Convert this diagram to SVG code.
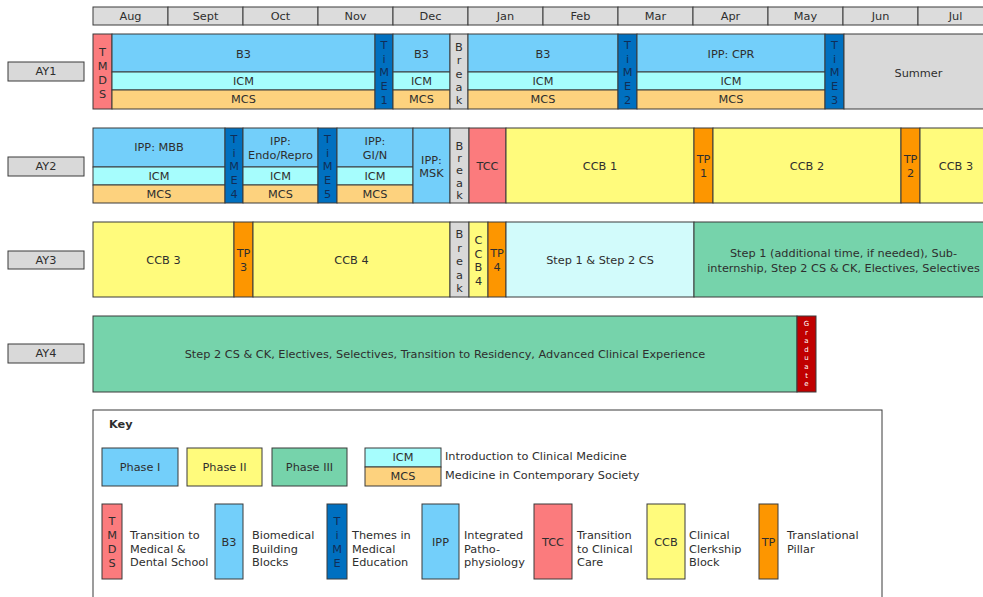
<svg xmlns="http://www.w3.org/2000/svg" width="983" height="597" viewBox="0 0 983 597">
<style>
text{font-family:"DejaVu Sans","Liberation Sans",sans-serif;font-size:11.3px;fill:#2e2e2e;text-anchor:middle;dominant-baseline:central}
rect{stroke:#3a3a3a;stroke-width:1}
.m{fill:#dcdcdc}
.lab{fill:#d9d9d9}
.p1{fill:#73cffa}
.icm{fill:#a6fdfd}
.mcs{fill:#fdd27e}
.time{fill:#0070c0}
.red{fill:#fb7b7d}
.brk{fill:#d9d9d9}
.ccb{fill:#fffb7c}
.tp{fill:#fd9600}
.cs{fill:#d2fbfb}
.p3{fill:#76d3ab}
.grad{fill:#c00000}
.tt{fill:#102e58}
.gt{fill:#ffffff;font-size:7px}
.l{text-anchor:start}
.k{font-weight:bold;text-anchor:start}
</style>

<g id="months">
<rect class="m" x="93" y="7" width="75" height="18"/><text x="130.5" y="16">Aug</text>
<rect class="m" x="168" y="7" width="75" height="18"/><text x="205.5" y="16">Sept</text>
<rect class="m" x="243" y="7" width="75" height="18"/><text x="280.5" y="16">Oct</text>
<rect class="m" x="318" y="7" width="75" height="18"/><text x="355.5" y="16">Nov</text>
<rect class="m" x="393" y="7" width="75" height="18"/><text x="430.5" y="16">Dec</text>
<rect class="m" x="468" y="7" width="75" height="18"/><text x="505.5" y="16">Jan</text>
<rect class="m" x="543" y="7" width="75" height="18"/><text x="580.5" y="16">Feb</text>
<rect class="m" x="618" y="7" width="75" height="18"/><text x="655.5" y="16">Mar</text>
<rect class="m" x="693" y="7" width="75" height="18"/><text x="730.5" y="16">Apr</text>
<rect class="m" x="768" y="7" width="75" height="18"/><text x="805.5" y="16">May</text>
<rect class="m" x="843" y="7" width="75" height="18"/><text x="880.5" y="16">Jun</text>
<rect class="m" x="918" y="7" width="75" height="18"/><text x="955.5" y="16">Jul</text>
</g>

<g id="labels">
<g id="ay1"><rect class="lab" x="8" y="62" width="76" height="19"/><text x="46" y="71.5">AY1</text></g>
<g id="ay2"><rect class="lab" x="8" y="157" width="76" height="19"/><text x="46" y="166.5">AY2</text></g>
<g id="ay3"><rect class="lab" x="8" y="251" width="76" height="18"/><text x="46" y="260">AY3</text></g>
<g id="ay4"><rect class="lab" x="8" y="344" width="76" height="19"/><text x="46" y="353.5">AY4</text></g>
</g>

<g id="row-ay1">
<g id="tmds1"><rect class="red" x="93" y="34" width="19" height="75"/>
<text x="102.5" y="52"><tspan x="102.5">T</tspan><tspan x="102.5" dy="14">M</tspan><tspan x="102.5" dy="14">D</tspan><tspan x="102.5" dy="14">S</tspan></text></g>
<g id="b3-1"><rect class="p1" x="112" y="34" width="263" height="38"/><text x="243.5" y="54">B3</text>
<rect class="icm" x="112" y="72" width="263" height="18"/><text x="243.5" y="81">ICM</text>
<rect class="mcs" x="112" y="90" width="263" height="19"/><text x="243.5" y="99.5">MCS</text></g>
<g id="time1"><rect class="time" x="375" y="34" width="18" height="75"/>
<text class="tt" x="384" y="45"><tspan x="384">T</tspan><tspan x="384" dy="13.7">i</tspan><tspan x="384" dy="13.7">M</tspan><tspan x="384" dy="13.7">E</tspan><tspan x="384" dy="13.7">1</tspan></text></g>
<g id="b3-2"><rect class="p1" x="393" y="34" width="57" height="38"/><text x="421.5" y="54">B3</text>
<rect class="icm" x="393" y="72" width="57" height="18"/><text x="421.5" y="81">ICM</text>
<rect class="mcs" x="393" y="90" width="57" height="19"/><text x="421.5" y="99.5">MCS</text></g>
<g id="break1"><rect class="brk" x="450" y="34" width="18" height="75"/>
<text x="459" y="47"><tspan x="459">B</tspan><tspan x="459" dy="13.3">r</tspan><tspan x="459" dy="13.3">e</tspan><tspan x="459" dy="13.3">a</tspan><tspan x="459" dy="13.3">k</tspan></text></g>
<g id="b3-3"><rect class="p1" x="468" y="34" width="150" height="38"/><text x="543" y="54">B3</text>
<rect class="icm" x="468" y="72" width="150" height="18"/><text x="543" y="81">ICM</text>
<rect class="mcs" x="468" y="90" width="150" height="19"/><text x="543" y="99.5">MCS</text></g>
<g id="time2"><rect class="time" x="618" y="34" width="19" height="75"/>
<text class="tt" x="627.5" y="45"><tspan x="627.5">T</tspan><tspan x="627.5" dy="13.7">i</tspan><tspan x="627.5" dy="13.7">M</tspan><tspan x="627.5" dy="13.7">E</tspan><tspan x="627.5" dy="13.7">2</tspan></text></g>
<g id="cpr"><rect class="p1" x="637" y="34" width="188" height="38"/><text x="731" y="54">IPP: CPR</text>
<rect class="icm" x="637" y="72" width="188" height="18"/><text x="731" y="81">ICM</text>
<rect class="mcs" x="637" y="90" width="188" height="19"/><text x="731" y="99.5">MCS</text></g>
<g id="time3"><rect class="time" x="825" y="34" width="19" height="75"/>
<text class="tt" x="834.5" y="45"><tspan x="834.5">T</tspan><tspan x="834.5" dy="13.7">i</tspan><tspan x="834.5" dy="13.7">M</tspan><tspan x="834.5" dy="13.7">E</tspan><tspan x="834.5" dy="13.7">3</tspan></text></g>
<g id="summer"><rect class="brk" x="844" y="34" width="149" height="75"/><text x="918.5" y="73">Summer</text></g>
</g>

<g id="row-ay2">
<g id="mbb"><rect class="p1" x="93" y="128" width="132" height="39"/><text x="159" y="147">IPP: MBB</text>
<rect class="icm" x="93" y="167" width="132" height="18"/><text x="159" y="176">ICM</text>
<rect class="mcs" x="93" y="185" width="132" height="18"/><text x="159" y="194">MCS</text></g>
<g id="time4"><rect class="time" x="225" y="128" width="18" height="75"/>
<text class="tt" x="234" y="139"><tspan x="234">T</tspan><tspan x="234" dy="13.7">i</tspan><tspan x="234" dy="13.7">M</tspan><tspan x="234" dy="13.7">E</tspan><tspan x="234" dy="13.7">4</tspan></text></g>
<g id="endo"><rect class="p1" x="243" y="128" width="75" height="39"/><text x="280.5" y="141"><tspan x="280.5">IPP:</tspan><tspan x="280.5" dy="14">Endo/Repro</tspan></text>
<rect class="icm" x="243" y="167" width="75" height="18"/><text x="280.5" y="176">ICM</text>
<rect class="mcs" x="243" y="185" width="75" height="18"/><text x="280.5" y="194">MCS</text></g>
<g id="time5"><rect class="time" x="318" y="128" width="19" height="75"/>
<text class="tt" x="327.5" y="139"><tspan x="327.5">T</tspan><tspan x="327.5" dy="13.7">i</tspan><tspan x="327.5" dy="13.7">M</tspan><tspan x="327.5" dy="13.7">E</tspan><tspan x="327.5" dy="13.7">5</tspan></text></g>
<g id="gin"><rect class="p1" x="337" y="128" width="76" height="39"/><text x="375" y="141"><tspan x="375">IPP:</tspan><tspan x="375" dy="14">GI/N</tspan></text>
<rect class="icm" x="337" y="167" width="76" height="18"/><text x="375" y="176">ICM</text>
<rect class="mcs" x="337" y="185" width="76" height="18"/><text x="375" y="194">MCS</text></g>
<g id="msk"><rect class="p1" x="413" y="128" width="37" height="75"/><text x="431.5" y="160"><tspan x="431.5">IPP:</tspan><tspan x="431.5" dy="13">MSK</tspan></text></g>
<g id="break2"><rect class="brk" x="450" y="128" width="19" height="75"/>
<text x="459.5" y="146"><tspan x="459.5">B</tspan><tspan x="459.5" dy="12.2">r</tspan><tspan x="459.5" dy="12.2">e</tspan><tspan x="459.5" dy="12.2">a</tspan><tspan x="459.5" dy="12.2">k</tspan></text></g>
<g id="tcc"><rect class="red" x="469" y="128" width="37" height="75"/><text x="487.5" y="166">TCC</text></g>
<g id="ccb1"><rect class="ccb" x="506" y="128" width="188" height="75"/><text x="600" y="166">CCB 1</text></g>
<g id="tp1"><rect class="tp" x="694" y="128" width="19" height="75"/><text x="703.5" y="159"><tspan x="703.5">TP</tspan><tspan x="703.5" dy="14">1</tspan></text></g>
<g id="ccb2"><rect class="ccb" x="713" y="128" width="188" height="75"/><text x="807" y="166">CCB 2</text></g>
<g id="tp2"><rect class="tp" x="901" y="128" width="19" height="75"/><text x="910.5" y="159"><tspan x="910.5">TP</tspan><tspan x="910.5" dy="14">2</tspan></text></g>
<g id="ccb3a"><rect class="ccb" x="920" y="128" width="73" height="75"/><text x="956" y="166">CCB 3</text></g>
</g>

<g id="row-ay3">
<g id="ccb3b"><rect class="ccb" x="93" y="222" width="141" height="75"/><text x="163.5" y="260">CCB 3</text></g>
<g id="tp3"><rect class="tp" x="234" y="222" width="19" height="75"/><text x="243.5" y="253"><tspan x="243.5">TP</tspan><tspan x="243.5" dy="14">3</tspan></text></g>
<g id="ccb4"><rect class="ccb" x="253" y="222" width="197" height="75"/><text x="351.5" y="260">CCB 4</text></g>
<g id="break3"><rect class="brk" x="450" y="222" width="19" height="75"/>
<text x="459.5" y="234"><tspan x="459.5">B</tspan><tspan x="459.5" dy="13.6">r</tspan><tspan x="459.5" dy="13.6">e</tspan><tspan x="459.5" dy="13.6">a</tspan><tspan x="459.5" dy="13.6">k</tspan></text></g>
<g id="ccb4v"><rect class="ccb" x="469" y="222" width="19" height="75"/>
<text x="478.5" y="240"><tspan x="478.5">C</tspan><tspan x="478.5" dy="13.6">C</tspan><tspan x="478.5" dy="13.6">B</tspan><tspan x="478.5" dy="13.6">4</tspan></text></g>
<g id="tp4"><rect class="tp" x="488" y="222" width="18" height="75"/><text x="497" y="253"><tspan x="497">TP</tspan><tspan x="497" dy="14">4</tspan></text></g>
<g id="step12"><rect class="cs" x="506" y="222" width="188" height="75"/><text x="600" y="260">Step 1 &amp; Step 2 CS</text></g>
<g id="step1add"><rect class="p3" x="694" y="222" width="299" height="75"/><text x="843.5" y="253"><tspan x="843.5">Step 1 (additional time, if needed), Sub-</tspan><tspan x="843.5" dy="15">internship, Step 2 CS &amp; CK, Electives, Selectives</tspan></text></g>
</g>

<g id="row-ay4">
<g id="ay4block"><rect class="p3" x="93" y="316" width="704" height="76"/><text x="445" y="354">Step 2 CS &amp; CK, Electives, Selectives, Transition to Residency, Advanced Clinical Experience</text></g>
<g id="graduate"><rect class="grad" x="797" y="316" width="19" height="76"/>
<text class="gt" x="806.5" y="324"><tspan x="806.5">G</tspan><tspan x="806.5" dy="8.6">r</tspan><tspan x="806.5" dy="8.6">a</tspan><tspan x="806.5" dy="8.6">d</tspan><tspan x="806.5" dy="8.6">u</tspan><tspan x="806.5" dy="8.6">a</tspan><tspan x="806.5" dy="8.6">t</tspan><tspan x="806.5" dy="8.6">e</tspan></text></g>
</g>

<g id="key">
<rect x="93" y="410" width="789" height="200" fill="#ffffff"/>
<text class="k" x="109" y="424">Key</text>
<g id="k-p1"><rect class="p1" x="102" y="448" width="76" height="38"/><text x="140" y="467">Phase I</text></g>
<g id="k-p2"><rect class="ccb" x="187" y="448" width="75" height="38"/><text x="224.5" y="467">Phase II</text></g>
<g id="k-p3"><rect class="p3" x="272" y="448" width="75" height="38"/><text x="309.5" y="467">Phase III</text></g>
<g id="k-icm"><rect class="icm" x="365" y="448" width="76" height="19"/><text x="403" y="457.5">ICM</text>
<rect class="mcs" x="365" y="467" width="76" height="19"/><text x="403" y="476.5">MCS</text>
<text class="l" x="445" y="456">Introduction to Clinical Medicine</text>
<text class="l" x="445" y="475">Medicine in Contemporary Society</text></g>
<g id="k-tmds"><rect class="red" x="102" y="504" width="20" height="75"/>
<text x="112" y="521"><tspan x="112">T</tspan><tspan x="112" dy="14">M</tspan><tspan x="112" dy="14">D</tspan><tspan x="112" dy="14">S</tspan></text>
<text class="l" x="130" y="535"><tspan x="130">Transition to</tspan><tspan x="130" dy="13.5">Medical &amp;</tspan><tspan x="130" dy="13.5">Dental School</tspan></text></g>
<g id="k-b3"><rect class="p1" x="215" y="504" width="28" height="75"/><text x="229" y="542">B3</text>
<text class="l" x="252" y="535"><tspan x="252">Biomedical</tspan><tspan x="252" dy="13.5">Building</tspan><tspan x="252" dy="13.5">Blocks</tspan></text></g>
<g id="k-time"><rect class="time" x="327" y="504" width="20" height="75"/>
<text class="tt" x="337" y="521"><tspan x="337">T</tspan><tspan x="337" dy="14">i</tspan><tspan x="337" dy="14">M</tspan><tspan x="337" dy="14">E</tspan></text>
<text class="l" x="352" y="535"><tspan x="352">Themes in</tspan><tspan x="352" dy="13.5">Medical</tspan><tspan x="352" dy="13.5">Education</tspan></text></g>
<g id="k-ipp"><rect class="p1" x="422" y="504" width="37" height="75"/><text x="440.5" y="542">IPP</text>
<text class="l" x="464" y="535"><tspan x="464">Integrated</tspan><tspan x="464" dy="13.5">Patho-</tspan><tspan x="464" dy="13.5">physiology</tspan></text></g>
<g id="k-tcc"><rect class="red" x="534" y="504" width="38" height="75"/><text x="553" y="542">TCC</text>
<text class="l" x="577" y="535"><tspan x="577">Transition</tspan><tspan x="577" dy="13.5">to Clinical</tspan><tspan x="577" dy="13.5">Care</tspan></text></g>
<g id="k-ccb"><rect class="ccb" x="647" y="504" width="38" height="75"/><text x="666" y="542">CCB</text>
<text class="l" x="689" y="535"><tspan x="689">Clinical</tspan><tspan x="689" dy="13.5">Clerkship</tspan><tspan x="689" dy="13.5">Block</tspan></text></g>
<g id="k-tp"><rect class="tp" x="759" y="504" width="19" height="75"/><text x="768.5" y="542">TP</text>
<text class="l" x="787" y="535"><tspan x="787">Translational</tspan><tspan x="787" dy="13.5">Pillar</tspan></text></g>
</g>
</svg>
